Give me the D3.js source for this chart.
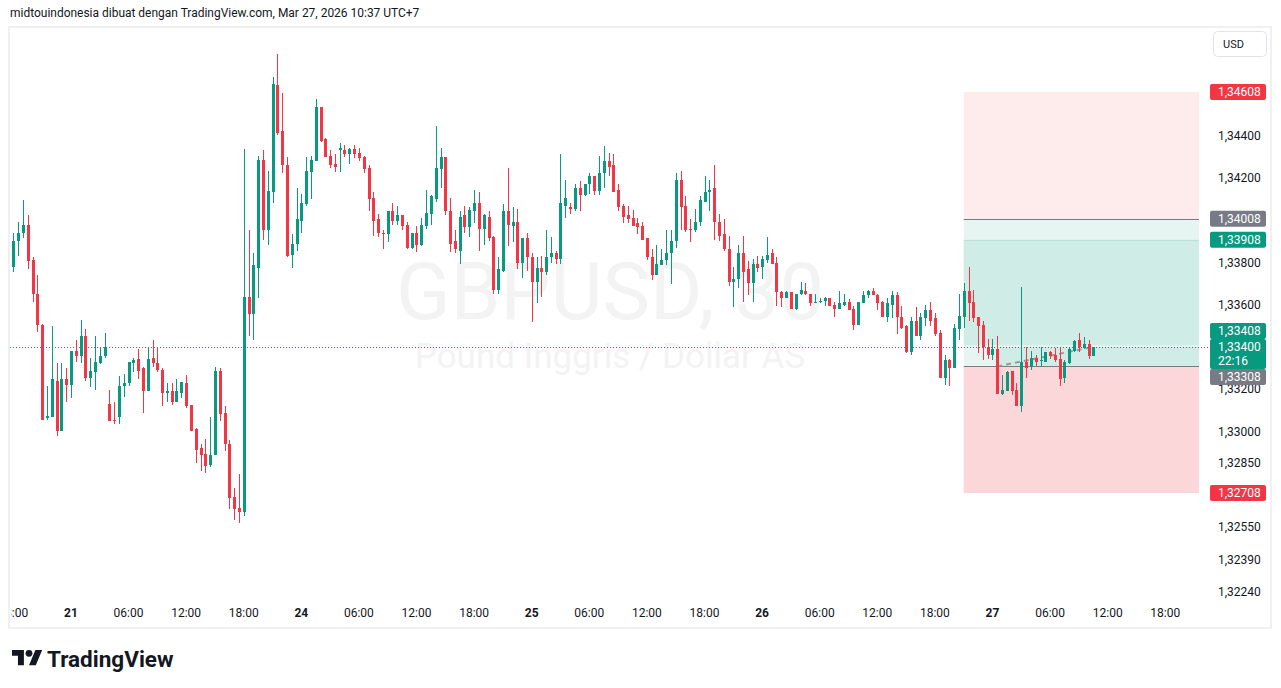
<!DOCTYPE html>
<html>
<head>
<meta charset="utf-8">
<script src="https://cdn.jsdelivr.net/npm/d3@7"></script>
<style>
  body { margin: 0; background: #fff; }
  svg { display: block; font-family: Roboto, "Noto Sans", sans-serif; }
</style>
</head>
<body>
<svg id="chart"></svg>
<script>
// GBPUSD 30m candles (oldest first)
var opens = [
  1.33781, 1.33900, 1.33938, 1.33980, 1.33810, 1.33653, 1.33506, 1.33061, 1.33070, 1.33241, 1.33004, 1.33246,
  1.33222, 1.33383, 1.33359, 1.33454, 1.33255, 1.33279, 1.33326, 1.33355, 1.33132, 1.33056, 1.33070, 1.33217,
  1.33227, 1.33326, 1.33345, 1.33298, 1.33189, 1.33350, 1.33326, 1.33293, 1.33184, 1.33189, 1.33141, 1.33184,
  1.33231, 1.33127, 1.33009, 1.32919, 1.32895, 1.32843, 1.32886, 1.33284, 1.33085, 1.32942, 1.32687, 1.32635,
  1.32616, 1.33639, 1.33558, 1.33776, 1.34288, 1.33956, 1.34136, 1.34643, 1.34421, 1.34264, 1.33838, 1.33890,
  1.33999, 1.34075, 1.34231, 1.34283, 1.34535, 1.34383, 1.34307, 1.34269, 1.34331, 1.34335, 1.34312, 1.34340,
  1.34321, 1.34298, 1.34250, 1.34108, 1.34004, 1.33942, 1.33933, 1.34046, 1.33999, 1.34023, 1.33980, 1.33871,
  1.33938, 1.33885, 1.33975, 1.34032, 1.34103, 1.34245, 1.34302, 1.34046, 1.33900, 1.33857, 1.34023, 1.33966,
  1.34046, 1.34080, 1.33961, 1.34018, 1.33923, 1.33672, 1.33762, 1.34042, 1.33975, 1.33994, 1.33800, 1.33918,
  1.33824, 1.33710, 1.33772, 1.33757, 1.33824, 1.33843, 1.33819, 1.34070, 1.34061, 1.34056, 1.34155, 1.34118,
  1.34170, 1.34208, 1.34141, 1.34222, 1.34283, 1.34260, 1.34146, 1.34070, 1.34023, 1.34009, 1.33985, 1.33971,
  1.33914, 1.33828, 1.33743, 1.33786, 1.33810, 1.33843, 1.33900, 1.34189, 1.34070, 1.33961, 1.33956, 1.33990,
  1.34089, 1.34132, 1.34151, 1.33994, 1.33933, 1.33866, 1.33710, 1.33720, 1.33843, 1.33767, 1.33701, 1.33791,
  1.33781, 1.33814, 1.33843, 1.33800, 1.33658, 1.33634, 1.33658, 1.33582, 1.33649, 1.33667, 1.33649, 1.33611,
  1.33615, 1.33620, 1.33630, 1.33601, 1.33582, 1.33601, 1.33615, 1.33582, 1.33506, 1.33606, 1.33644, 1.33663,
  1.33644, 1.33615, 1.33544, 1.33601, 1.33644, 1.33544, 1.33497, 1.33374, 1.33525, 1.33454, 1.33535, 1.33577,
  1.33535, 1.33464, 1.33255, 1.33336, 1.33298, 1.33483, 1.33544, 1.33667, 1.33611, 1.33540, 1.33506, 1.33402,
  1.33364, 1.33388, 1.33179, 1.33189, 1.33284, 1.33194, 1.33122, 1.33331, 1.33303, 1.33350, 1.33336, 1.33331,
  1.33374, 1.33364, 1.33345, 1.33251, 1.33326, 1.33383, 1.33431, 1.33397, 1.33412, 1.33359
];
var highs = [
  1.33938, 1.33990, 1.34094, 1.34023, 1.33824, 1.33739, 1.33511, 1.33217, 1.33497, 1.33326, 1.33322, 1.33298,
  1.33383, 1.33431, 1.33530, 1.33483, 1.33350, 1.33450, 1.33397, 1.33468, 1.33194, 1.33141, 1.33260, 1.33274,
  1.33331, 1.33350, 1.33388, 1.33303, 1.33397, 1.33431, 1.33397, 1.33298, 1.33227, 1.33231, 1.33246, 1.33236,
  1.33265, 1.33127, 1.33018, 1.32942, 1.32966, 1.33070, 1.33307, 1.33298, 1.33122, 1.32957, 1.32734, 1.32800,
  1.34340, 1.33956, 1.33847, 1.34307, 1.34335, 1.34236, 1.34681, 1.34786, 1.34601, 1.34298, 1.33933, 1.34151,
  1.34127, 1.34298, 1.34307, 1.34577, 1.34539, 1.34392, 1.34331, 1.34312, 1.34364, 1.34359, 1.34345, 1.34359,
  1.34345, 1.34307, 1.34260, 1.34136, 1.34032, 1.33956, 1.34046, 1.34080, 1.34070, 1.34023, 1.33990, 1.33942,
  1.33975, 1.34009, 1.34146, 1.34122, 1.34449, 1.34345, 1.34302, 1.34108, 1.33956, 1.34042, 1.34070, 1.34061,
  1.34146, 1.34136, 1.34032, 1.34042, 1.33928, 1.33828, 1.34075, 1.34250, 1.34065, 1.34056, 1.33918, 1.33938,
  1.33843, 1.33828, 1.33833, 1.33952, 1.33923, 1.33857, 1.34316, 1.34193, 1.34084, 1.34174, 1.34184, 1.34174,
  1.34222, 1.34208, 1.34307, 1.34354, 1.34321, 1.34316, 1.34174, 1.34075, 1.34070, 1.34051, 1.34009, 1.33990,
  1.33918, 1.33866, 1.33881, 1.33862, 1.33952, 1.33956, 1.34226, 1.34236, 1.34113, 1.34004, 1.34056, 1.34113,
  1.34212, 1.34189, 1.34264, 1.34032, 1.34004, 1.33928, 1.33781, 1.33885, 1.33928, 1.33805, 1.33819, 1.33833,
  1.33833, 1.33923, 1.33862, 1.33824, 1.33667, 1.33667, 1.33658, 1.33653, 1.33710, 1.33701, 1.33653, 1.33649,
  1.33630, 1.33639, 1.33634, 1.33615, 1.33667, 1.33653, 1.33625, 1.33596, 1.33615, 1.33663, 1.33672, 1.33677,
  1.33653, 1.33620, 1.33634, 1.33667, 1.33658, 1.33592, 1.33502, 1.33540, 1.33587, 1.33563, 1.33601, 1.33611,
  1.33563, 1.33478, 1.33364, 1.33345, 1.33511, 1.33653, 1.33701, 1.33781, 1.33672, 1.33544, 1.33525, 1.33440,
  1.33440, 1.33454, 1.33265, 1.33284, 1.33284, 1.33231, 1.33686, 1.33402, 1.33383, 1.33364, 1.33402, 1.33378,
  1.33383, 1.33393, 1.33393, 1.33336, 1.33393, 1.33435, 1.33464, 1.33445, 1.33435, 1.33402
];
var lows = [
  1.33753, 1.33833, 1.33914, 1.33767, 1.33615, 1.33473, 1.33052, 1.33056, 1.33070, 1.32980, 1.33004, 1.33137,
  1.33156, 1.33331, 1.33326, 1.33241, 1.33208, 1.33194, 1.33317, 1.33350, 1.33047, 1.33037, 1.33037, 1.33165,
  1.33213, 1.33279, 1.33246, 1.33089, 1.33189, 1.33303, 1.33279, 1.33122, 1.33137, 1.33127, 1.33141, 1.33160,
  1.33113, 1.33004, 1.32852, 1.32810, 1.32805, 1.32829, 1.32886, 1.33047, 1.32909, 1.32630, 1.32582, 1.32564,
  1.32597, 1.33454, 1.33435, 1.33630, 1.33909, 1.33881, 1.34084, 1.34402, 1.34226, 1.33828, 1.33772, 1.33857,
  1.33938, 1.34070, 1.34099, 1.34283, 1.34373, 1.34302, 1.34250, 1.34231, 1.34231, 1.34302, 1.34269, 1.34293,
  1.34283, 1.34222, 1.34042, 1.33928, 1.33923, 1.33862, 1.33895, 1.33980, 1.33980, 1.33956, 1.33862, 1.33866,
  1.33852, 1.33876, 1.33961, 1.33980, 1.34089, 1.34155, 1.34023, 1.33852, 1.33843, 1.33795, 1.33942, 1.33923,
  1.33985, 1.33857, 1.33885, 1.33900, 1.33653, 1.33649, 1.33757, 1.33876, 1.33895, 1.33767, 1.33729, 1.33762,
  1.33516, 1.33606, 1.33639, 1.33743, 1.33800, 1.33791, 1.33795, 1.34009, 1.34032, 1.34046, 1.34042, 1.34113,
  1.34127, 1.34122, 1.34122, 1.34151, 1.34212, 1.34132, 1.34046, 1.33985, 1.33985, 1.33971, 1.33933, 1.33909,
  1.33810, 1.33715, 1.33739, 1.33786, 1.33786, 1.33696, 1.33871, 1.33956, 1.33947, 1.33895, 1.33947, 1.33975,
  1.34089, 1.34046, 1.33909, 1.33900, 1.33857, 1.33691, 1.33587, 1.33677, 1.33615, 1.33644, 1.33615, 1.33753,
  1.33724, 1.33800, 1.33795, 1.33592, 1.33587, 1.33630, 1.33582, 1.33577, 1.33644, 1.33644, 1.33596, 1.33606,
  1.33606, 1.33596, 1.33596, 1.33540, 1.33582, 1.33596, 1.33577, 1.33478, 1.33502, 1.33606, 1.33630, 1.33644,
  1.33573, 1.33544, 1.33516, 1.33535, 1.33459, 1.33487, 1.33369, 1.33364, 1.33454, 1.33431, 1.33497, 1.33497,
  1.33454, 1.33255, 1.33222, 1.33213, 1.33298, 1.33435, 1.33492, 1.33521, 1.33516, 1.33369, 1.33336, 1.33345,
  1.33340, 1.33179, 1.33170, 1.33189, 1.33170, 1.33122, 1.33094, 1.33255, 1.33293, 1.33312, 1.33312, 1.33331,
  1.33345, 1.33331, 1.33217, 1.33231, 1.33317, 1.33374, 1.33374, 1.33388, 1.33345, 1.33359
];
var closes = [
  1.33904, 1.33942, 1.33980, 1.33805, 1.33649, 1.33502, 1.33056, 1.33075, 1.33246, 1.33004, 1.33246, 1.33222,
  1.33383, 1.33359, 1.33454, 1.33255, 1.33284, 1.33331, 1.33359, 1.33402, 1.33047, 1.33052, 1.33217, 1.33231,
  1.33331, 1.33340, 1.33288, 1.33189, 1.33345, 1.33322, 1.33293, 1.33184, 1.33189, 1.33141, 1.33189, 1.33236,
  1.33122, 1.33004, 1.32914, 1.32890, 1.32838, 1.32890, 1.33284, 1.33080, 1.32938, 1.32682, 1.32630, 1.32616,
  1.33639, 1.33558, 1.33786, 1.34288, 1.33952, 1.34141, 1.34648, 1.34416, 1.34260, 1.33833, 1.33890, 1.34004,
  1.34080, 1.34236, 1.34288, 1.34535, 1.34378, 1.34302, 1.34264, 1.34255, 1.34345, 1.34316, 1.34340, 1.34316,
  1.34293, 1.34245, 1.34103, 1.33999, 1.33938, 1.33933, 1.34046, 1.33999, 1.34023, 1.33975, 1.33871, 1.33938,
  1.33885, 1.33980, 1.34037, 1.34113, 1.34250, 1.34302, 1.34042, 1.33890, 1.33862, 1.34018, 1.33966, 1.34051,
  1.34080, 1.33961, 1.34023, 1.33918, 1.33672, 1.33767, 1.34042, 1.33980, 1.33994, 1.33800, 1.33918, 1.33824,
  1.33710, 1.33772, 1.33757, 1.33828, 1.33843, 1.33819, 1.34080, 1.34108, 1.34056, 1.34155, 1.34118, 1.34174,
  1.34208, 1.34141, 1.34226, 1.34283, 1.34255, 1.34136, 1.34065, 1.34018, 1.34004, 1.33975, 1.33966, 1.33909,
  1.33824, 1.33743, 1.33791, 1.33814, 1.33847, 1.33904, 1.34189, 1.34065, 1.33956, 1.33956, 1.33994, 1.34094,
  1.34136, 1.34146, 1.33990, 1.33928, 1.33862, 1.33710, 1.33724, 1.33843, 1.33757, 1.33701, 1.33791, 1.33776,
  1.33819, 1.33838, 1.33795, 1.33658, 1.33634, 1.33658, 1.33582, 1.33649, 1.33672, 1.33649, 1.33606, 1.33615,
  1.33620, 1.33630, 1.33596, 1.33582, 1.33606, 1.33615, 1.33577, 1.33506, 1.33611, 1.33644, 1.33663, 1.33644,
  1.33606, 1.33544, 1.33606, 1.33644, 1.33540, 1.33492, 1.33374, 1.33525, 1.33454, 1.33540, 1.33577, 1.33525,
  1.33459, 1.33255, 1.33336, 1.33298, 1.33492, 1.33549, 1.33667, 1.33606, 1.33535, 1.33497, 1.33402, 1.33364,
  1.33388, 1.33179, 1.33194, 1.33279, 1.33189, 1.33122, 1.33331, 1.33298, 1.33350, 1.33331, 1.33340, 1.33374,
  1.33355, 1.33340, 1.33246, 1.33331, 1.33388, 1.33426, 1.33402, 1.33416, 1.33359, 1.33400
];

// time axis: one label every 12 bars (6 hours)
var timeLabels = ["18:00", "21", "06:00", "12:00", "18:00", "24", "06:00", "12:00", "18:00", "25", "06:00",
  "12:00", "18:00", "26", "06:00", "12:00", "18:00", "27", "06:00", "12:00", "18:00"];
var dayLabels = ["21", "24", "25", "26", "27"];
var priceTicks = [1.344, 1.342, 1.338, 1.336, 1.332, 1.330, 1.3285, 1.3255, 1.3239, 1.3224];

// two position tools: [stop, entry, target]
var shortPos = [1.34608, 1.34008, 1.33408];
var longPos = [1.32708, 1.33308, 1.33908];
var posStartBar = 198, entryHitBar = 205;
var lastPrice = 1.33400;
var countdown = "22:16";

var header = "midtouindonesia dibuat dengan TradingView.com, Mar 27, 2026 10:37 UTC+7";
var symbolText = "GBPUSD, 30";
var symbolDesc = "Pound Inggris / Dollar AS";

var green = "#089981", red = "#f23645", grey = "#787b86", ink = "#131722";

var width = 1281, height = 688;
var plot = { left: 10, right: 1199, top: 28, bottom: 600 };

var svg = d3.select("#chart")
    .attr("width", width)
    .attr("height", height)
    .style("background", "#fff");

var xScale = d3.scaleLinear()
    .domain([0, 240])
    .range([13.3, 13.3 + 240 * 4.8]);

var yScale = d3.scaleLinear()
    .domain([shortPos[0], longPos[0]])
    .range([92, 493]);

var fmt = function(p) { return d3.format(".5f")(p).replace(".", ","); };

// header line
var head = svg.append("text")
    .attr("x", 10)
    .attr("y", 17)
    .attr("fill", ink)
    .style("font-size", "12px")
    .text(header);
var hw = head.node().getComputedTextLength();
head.style("font-size", (12 * 410 / hw) + "px");

// panel frame
svg.append("rect")
    .attr("x", 9).attr("y", 27)
    .attr("width", 1262).attr("height", 601)
    .attr("fill", "none")
    .attr("stroke", "#ececec")
    .attr("stroke-width", 1.5);

svg.append("clipPath").attr("id", "plotClip")
  .append("rect")
    .attr("x", plot.left).attr("y", plot.top)
    .attr("width", plot.right - plot.left).attr("height", plot.bottom - plot.top);

var chart = svg.append("g").attr("clip-path", "url(#plotClip)");

// watermark
chart.append("text")
    .attr("x", 610).attr("y", 319)
    .attr("text-anchor", "middle")
    .attr("fill", "#f3f3f3")
    .style("font-size", "80px")
    .text(symbolText);
chart.append("text")
    .attr("x", 610).attr("y", 368)
    .attr("text-anchor", "middle")
    .attr("fill", "#f3f3f3")
    .style("font-size", "35px")
    .text(symbolDesc);

// position tools
var bx = xScale(posStartBar);
function zone(p1, p2, color, alpha, x0) {
  var xs = x0 || bx;
  chart.append("rect")
      .attr("x", xs)
      .attr("y", yScale(Math.max(p1, p2)))
      .attr("width", plot.right - xs)
      .attr("height", Math.abs(yScale(p1) - yScale(p2)))
      .attr("fill", color)
      .attr("fill-opacity", alpha);
}
zone(shortPos[0], shortPos[1], red, 0.1);
zone(shortPos[1], shortPos[2], green, 0.1);
zone(longPos[2], longPos[1], green, 0.1);
zone(longPos[1], longPos[0], red, 0.2);
zone(lastPrice, longPos[1], green, 0.1, xScale(entryHitBar));

chart.append("line")
    .attr("x1", bx).attr("x2", plot.right)
    .attr("y1", Math.round(yScale(longPos[2])) + 0.5)
    .attr("y2", Math.round(yScale(longPos[2])) + 0.5)
    .attr("stroke", green).attr("stroke-opacity", 0.12);

[shortPos[1], longPos[1]].forEach(function(p) {
  var y = Math.round(yScale(p)) + 0.5;
  chart.append("line")
      .attr("x1", bx).attr("x2", plot.right)
      .attr("y1", y).attr("y2", y)
      .attr("stroke", grey)
      .attr("stroke-width", 1.2);
});

// dashed link from entry fill to last bar
chart.append("line")
    .attr("x1", xScale(entryHitBar)).attr("y1", yScale(longPos[1]))
    .attr("x2", xScale(closes.length - 1)).attr("y2", yScale(lastPrice))
    .attr("stroke", "#9a9a9a")
    .attr("stroke-width", 2)
    .attr("stroke-dasharray", "5,4");

// candles
var bars = d3.range(closes.length).map(function(i) {
  return { i: i, o: opens[i], h: highs[i], l: lows[i], c: closes[i] };
});

var candle = chart.selectAll(".candle")
    .data(bars)
  .enter().append("g")
    .attr("class", "candle")
    .attr("fill", function(d) { return d.c >= d.o ? green : red; })
    .attr("stroke", function(d) { return d.c >= d.o ? green : red; });

candle.append("line")
    .attr("x1", function(d) { return Math.round(xScale(d.i)) + 0.5; })
    .attr("x2", function(d) { return Math.round(xScale(d.i)) + 0.5; })
    .attr("y1", function(d) { return Math.round(yScale(d.h)); })
    .attr("y2", function(d) { return Math.round(yScale(d.l)); })
    .attr("stroke-width", 1);

candle.append("rect")
    .attr("stroke", "none")
    .attr("x", function(d) { return Math.round(xScale(d.i)) - 1; })
    .attr("width", 3)
    .attr("y", function(d) { return Math.round(yScale(Math.max(d.o, d.c))); })
    .attr("height", function(d) {
      return Math.max(1, Math.round(yScale(Math.min(d.o, d.c))) - Math.round(yScale(Math.max(d.o, d.c))));
    });

// last price dotted line
svg.append("line")
    .attr("x1", plot.left).attr("x2", 1210)
    .attr("y1", Math.round(yScale(lastPrice)) + 0.5)
    .attr("y2", Math.round(yScale(lastPrice)) + 0.5)
    .attr("stroke", green)
    .attr("stroke-dasharray", "1,2");

// price axis ticks
svg.append("g").selectAll("text")
    .data(priceTicks)
  .enter().append("text")
    .attr("x", 1218)
    .attr("y", function(d) { return yScale(d); })
    .attr("dy", "0.35em")
    .attr("fill", ink)
    .style("font-size", "12px")
    .text(fmt);

// price labels
function tag(yTop, h, color, lines) {
  svg.append("rect")
      .attr("x", 1210).attr("y", yTop)
      .attr("width", 56).attr("height", h)
      .attr("rx", 2)
      .attr("fill", color);
  lines.forEach(function(t, k) {
    svg.append("text")
        .attr("x", 1218)
        .attr("y", yTop + 8 + k * 14)
        .attr("dy", "0.35em")
        .attr("fill", "#fff")
        .style("font-size", "12px")
        .text(t);
  });
}
tag(yScale(shortPos[0]) - 8, 16, red, [fmt(shortPos[0])]);
tag(yScale(shortPos[1]) - 8, 16, grey, [fmt(shortPos[1])]);
tag(yScale(longPos[2]) - 8, 16, green, [fmt(longPos[2])]);
tag(yScale(longPos[0]) - 8, 16, red, [fmt(longPos[0])]);
var ly = Math.round(yScale(lastPrice));
tag(ly - 8, 30, green, [fmt(lastPrice), countdown]);
tag(ly - 24, 16, green, [fmt(shortPos[2])]);
tag(ly + 22, 16, grey, [fmt(longPos[1])]);

// USD button
svg.append("rect")
    .attr("x", 1213.5).attr("y", 31.5)
    .attr("width", 53).attr("height", 25)
    .attr("rx", 4)
    .attr("fill", "#fff")
    .attr("stroke", "#e0e3eb");
svg.append("text")
    .attr("x", 1223).attr("y", 44)
    .attr("dy", "0.35em")
    .attr("fill", ink)
    .style("font-size", "11px")
    .text("USD");

// time axis (first label runs under the left edge, as in the snapshot)
svg.append("clipPath").attr("id", "axisClip")
  .append("rect")
    .attr("x", 11).attr("y", 600)
    .attr("width", 1188).attr("height", 27);

svg.append("g")
    .attr("clip-path", "url(#axisClip)")
  .selectAll("text")
    .data(timeLabels)
  .enter().append("text")
    .attr("x", function(d, k) { return xScale(k * 12); })
    .attr("y", 613)
    .attr("dy", "0.35em")
    .attr("text-anchor", "middle")
    .attr("fill", ink)
    .style("font-size", "12px")
    .style("font-weight", function(d) { return dayLabels.indexOf(d) >= 0 ? "bold" : "normal"; })
    .text(function(d) { return d; });

// TradingView logo
var logo = svg.append("g").attr("transform", "translate(12,646.5) scale(0.85)");
logo.append("path")
    .attr("d", "M14 22H7V11H0V4h14v18zM28 22h-8l7.5-18h8L28 22z")
    .attr("fill", ink);
logo.append("circle")
    .attr("cx", 20).attr("cy", 8).attr("r", 4)
    .attr("fill", ink);
svg.append("text")
    .attr("x", 47).attr("y", 666.5)
    .attr("fill", ink)
    .style("font-size", "22.5px")
    .style("font-weight", "bold")
    .text("TradingView");
</script>
</body>
</html>
